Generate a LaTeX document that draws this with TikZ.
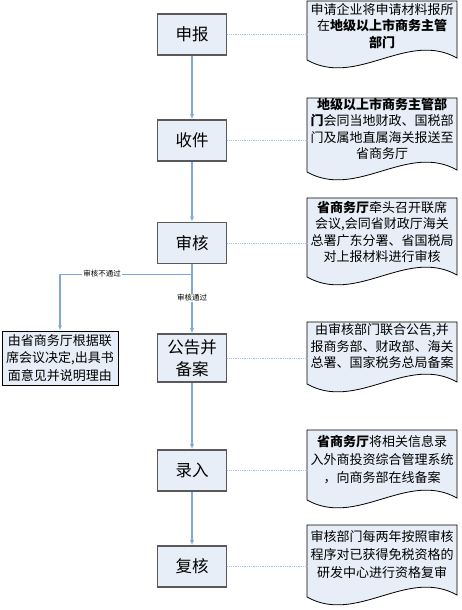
\documentclass[tikz,border=0pt]{standalone}
\usepackage{fontspec}
\setmainfont{Noto Sans CJK SC}
\usetikzlibrary{arrows.meta,positioning}
\definecolor{boxfill}{HTML}{E8EEF7}
\definecolor{boxedge}{HTML}{595959}
\definecolor{flowblue}{HTML}{7FA7DC}
\definecolor{dotblue}{HTML}{A9C1E6}

\begin{document}
\begin{tikzpicture}[x=1pt, y=-1pt,
    stepbox/.style={draw=boxedge, line width=1.6pt, fill=boxfill, minimum width=69pt,
                    minimum height=41pt, inner sep=0pt, align=center,
                    font=\fontsize{16.5}{22}\selectfont},
    notebox/.style={draw=black, line width=1pt, fill=boxfill, minimum width=116pt,
                    minimum height=54pt, inner sep=0pt, align=center,
                    font=\fontsize{13}{17.5}\selectfont},
    doctext/.style={text width=150pt, align=center, inner sep=0pt,
                    font=\fontsize{13}{16.5}\selectfont},
    docline/.style={draw=black, line width=0.8pt, fill=boxfill},
    flow/.style={draw=flowblue, line width=1.3pt, -{Latex[length=5pt,width=4pt]}},
    link/.style={draw=dotblue, line width=0.8pt, densely dotted},
    tag/.style={fill=white, inner sep=1pt, font=\fontsize{7.5}{9}\selectfont}]

  \useasboundingbox (0,0) rectangle (461,610);

  % document shapes on the right
  \foreach \t/\b in {1/60, 98/172, 198/277, 322/384, 430/500, 525/597}
    \draw[docline] (307,\t) -- (457,\t) -- (457,{\b-2})
      .. controls (407,{\b-30}) and (357,{\b+28}) .. (307,\b) -- cycle;

  \node[stepbox] (p1) at (192,34.5) {申报};
  \node[stepbox] (p2) at (192,140.5) {收件};
  \node[stepbox] (p3) at (192,243) {审核};
  \node[stepbox, minimum height=48pt] (p4) at (192,358) {公告并\\备案};
  \node[stepbox] (p5) at (192,470.5) {录入};
  \node[stepbox] (p6) at (192,566.5) {复核};

  \node[notebox] (n1) at (60,358)
    {由省商务厅根据联\\席会议决定,出具书\\面意见并说明理由};

  \node[doctext] (d1) at (382,26)
    {申请企业将申请材料报所\\在\textbf{地级以上市商务主管}\\\textbf{部门}};
  \node[doctext] (d2) at (382,129)
    {\textbf{地级以上市商务主管部}\\\textbf{门}会同当地财政、国税部\\门及属地直属海关报送至\\省商务厅};
  \node[doctext] (d3) at (382,232)
    {\textbf{省商务厅}牵头召开联席\\会议,会同省财政厅海关\\总署广东分署、省国税局\\对上报材料进行审核};
  \node[doctext] (d4) at (382,346.5)
    {由审核部门联合公告,并\\报商务部、财政部、海关\\总署、国家税务总局备案};
  \node[doctext, font=\fontsize{13}{18}\selectfont] (d5) at (382,460)
    {\textbf{省商务厅}将相关信息录\\入外商投资综合管理系统\\，向商务部在线备案};
  \node[doctext, font=\fontsize{13}{18}\selectfont] (d6) at (382,555)
    {审核部门每两年按照审核\\程序对已获得免税资格的\\研发中心进行资格复审};

  \foreach \i/\j in {p1/p2, p2/p3, p3/p4, p4/p5, p5/p6}
    \draw[flow] (\i.south) -- (\j.north);
  \foreach \i/\j in {p1/d1, p2/d2, p3/d3, p4/d4, p5/d5, p6/d6}
    \draw[link] (\i.east) -- (\i.east -| \j.west);

  \draw[flow] (p3.south) -- ++(0,10) -| (n1.north);

  \node[tag] (t1) at (102,274) {审核不通过};
  \node[tag] (t2) at (192,298) {审核通过};
\end{tikzpicture}
\end{document}
